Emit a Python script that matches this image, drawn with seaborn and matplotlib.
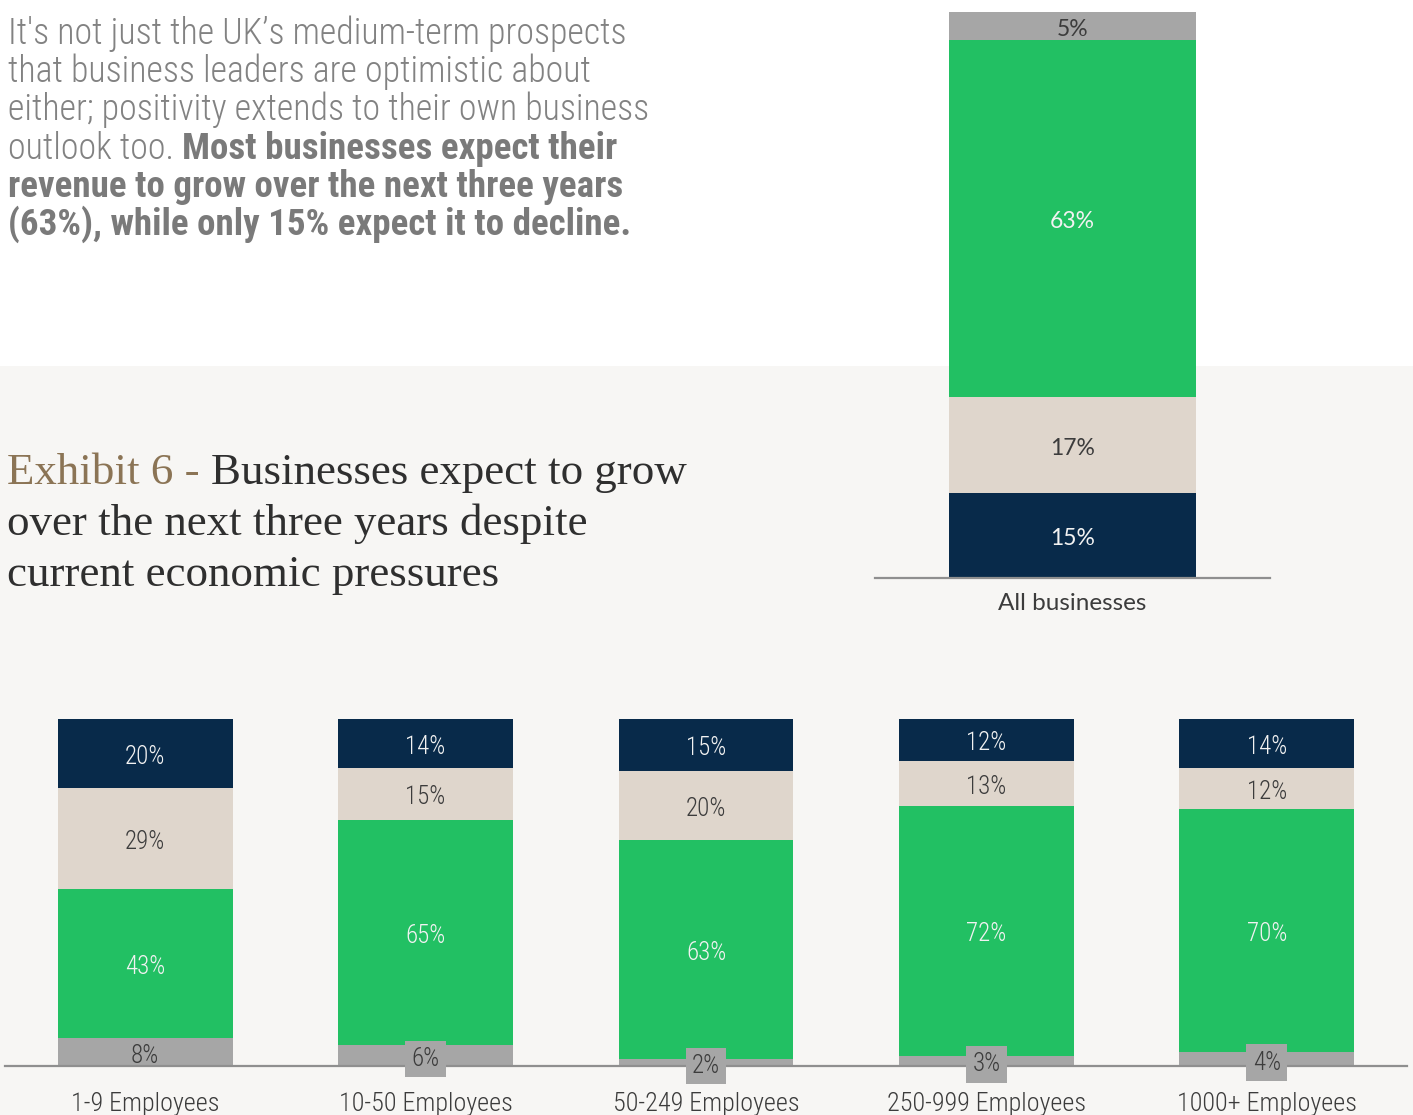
import matplotlib
matplotlib.use("Agg")
import matplotlib.pyplot as plt
import numpy as np
import pandas as pd
import seaborn as sns
from matplotlib import font_manager
from matplotlib.patches import Rectangle

# ---- data -------------------------------------------------------------
size_bands = ["1-9 Employees", "10-50 Employees", "50-249 Employees",
              "250-999 Employees", "1000+ Employees"]
band_decline = [20, 14, 15, 12, 14]
band_same = [29, 15, 20, 13, 12]
band_grow = [43, 65, 63, 72, 70]
band_dont_know = [8, 6, 2, 3, 4]

overall_label = ["All businesses"]
overall_decline = [15]
overall_same = [17]
overall_grow = [63]
overall_dont_know = [5]

# ---- style ------------------------------------------------------------
NAVY = "#082a4a"
BEIGE = "#dfd6cc"
GREEN = "#22c063"
GREY = "#a6a6a6"
PANEL = "#f7f6f4"
DARK_TXT = "#3c3c3c"
LIGHT_TXT = "#f2f2f2"

sns.set_theme(style="white")
available = {f.name for f in font_manager.fontManager.ttflist}


def pick(*names):
    for n in names:
        if n in available:
            return n
    return "DejaVu Sans"


NARROW = pick("Roboto Condensed", "Liberation Sans Narrow", "Roboto")
SANS = pick("Lato", "Open Sans", "Noto Sans")
SERIF = pick("Liberation Serif", "DejaVu Serif")
plt.rcParams["font.family"] = [NARROW, "DejaVu Sans"]

W, H = 1413, 1115
fig = plt.figure(figsize=(W / 100, H / 100), dpi=100, facecolor="white")
renderer = fig.canvas.get_renderer()

# lower panel background
fig.patches.append(Rectangle((0, 0), 1, 1 - 366 / H, transform=fig.transFigure,
                             facecolor=PANEL, edgecolor="none", zorder=-10))


def px_axes(left, top, right, bottom):
    ax = fig.add_axes([left / W, 1 - bottom / H, (right - left) / W, (bottom - top) / H])
    ax.set_facecolor("none")
    ax.set_zorder(1)
    return ax


def fit_size(text, family, weight, target_px, base=20.0):
    t = fig.text(0, 0, text, fontsize=base, family=family, weight=weight)
    w = t.get_window_extent(renderer).width
    t.remove()
    return base * target_px / w


def draw_runs(x_px, y_px, runs, family):
    x = x_px
    for txt, weight, color, size in runs:
        t = fig.text(x / W, 1 - y_px / H, txt, fontsize=size, family=family,
                     weight=weight, color=color, va="baseline", ha="left")
        x += t.get_window_extent(renderer).width


def stacked(ax, cats, segments, width, label_font, label_size, label_weight,
            nudge, boxed_small=False):
    """segments: list of (values, colour, text colour), bottom to top."""
    vals = np.array([s[0] for s in segments], dtype=float)
    tops = np.cumsum(vals, axis=0)
    # draw tallest cumulative layer first so lower layers sit on top
    for i in range(len(segments) - 1, -1, -1):
        df = pd.DataFrame({"cat": cats, "val": tops[i]})
        sns.barplot(data=df, x="cat", y="val", color=segments[i][1], saturation=1,
                    width=width, linewidth=0, ax=ax, order=cats)
    for i, (v, _, tc) in enumerate(segments):
        for j, val in enumerate(v):
            base = tops[i][j] - val
            mid = base + val / 2 - nudge
            kw = {}
            if boxed_small and val < 8:
                kw["bbox"] = dict(boxstyle="square,pad=0.25", facecolor=GREY, edgecolor="none")
            ax.text(j, mid, f"{val:g}%", ha="center", va="center", color=tc,
                    fontsize=label_size, family=label_font, weight=label_weight,
                    zorder=5, clip_on=False, **kw)


def finish(ax, xlim, ylim, pad, size, family, weight):
    ax.set_xlim(*xlim)
    ax.set_ylim(*ylim)
    ax.set_xlabel("")
    ax.set_ylabel("")
    ax.set_yticks([])
    for s in ("top", "left", "right"):
        ax.spines[s].set_visible(False)
    ax.spines["bottom"].set_color("#8f8f8f")
    ax.spines["bottom"].set_linewidth(1.6)
    ax.spines["bottom"].set_zorder(4)
    ax.tick_params(axis="x", length=0, pad=pad, labelsize=size, labelcolor=DARK_TXT)
    for lbl in ax.get_xticklabels():
        lbl.set_family(family)
        lbl.set_weight(weight)


# ---- overall bar (top right) -----------------------------------------
ax_top = px_axes(875, 12, 1270, 578)
stacked(ax_top, overall_label,
        [(overall_decline, NAVY, LIGHT_TXT),
         (overall_same, BEIGE, DARK_TXT),
         (overall_grow, GREEN, LIGHT_TXT),
         (overall_dont_know, GREY, DARK_TXT)],
        width=0.625, label_font=SANS, label_size=16.5, label_weight="normal",
        nudge=0.55)
finish(ax_top, (-0.5, 0.5), (0, 100), pad=10.5, size=17.5, family=SANS, weight="normal")

# ---- by company size (bottom) ---------------------------------------
ax_bot = px_axes(5, 719, 1407, 1066)
stacked(ax_bot, size_bands,
        [(band_dont_know, GREY, DARK_TXT),
         (band_grow, GREEN, LIGHT_TXT),
         (band_same, BEIGE, DARK_TXT),
         (band_decline, NAVY, LIGHT_TXT)],
        width=0.624, label_font=NARROW, label_size=18, label_weight=300,
        nudge=1.0, boxed_small=True)
finish(ax_bot, (-0.5, 4.5), (0, 100), pad=19, size=18.8, family=NARROW, weight=300)

# ---- intro paragraph -------------------------------------------------
P_REG = "#828282"
P_BOLD = "#7a7a7a"
reg = fit_size("It's not just the UK\u2019s medium-term prospects", NARROW, 300, 619)
bold = reg * 1.03
para_lines = [
    [("It's not just the UK\u2019s medium-term prospects", 300, P_REG, reg)],
    [("that business leaders are optimistic about", 300, P_REG, reg)],
    [("either; positivity extends to their own business", 300, P_REG, reg)],
    [("outlook too. ", 300, P_REG, reg), ("Most businesses expect their", "bold", P_BOLD, bold)],
    [("revenue to grow over the next three years", "bold", P_BOLD, bold)],
    [("(63%), while only 15% expect it to decline.", "bold", P_BOLD, bold)],
]
for k, runs in enumerate(para_lines):
    draw_runs(8, 44 + k * 38.2, runs, NARROW)

# ---- exhibit title ---------------------------------------------------
T_ACCENT = "#8b7455"
T_DARK = "#2f2f2f"
ts = fit_size("Exhibit 6 - Businesses expect to grow", SERIF, "normal", 680)
title_lines = [
    [("Exhibit 6 - ", "normal", T_ACCENT, ts), ("Businesses expect to grow", "normal", T_DARK, ts)],
    [("over the next three years despite", "normal", T_DARK, ts)],
    [("current economic pressures", "normal", T_DARK, ts)],
]
for k, runs in enumerate(title_lines):
    draw_runs(7, 484 + k * 51, runs, SERIF)

fig.savefig("out.png", dpi=100, facecolor="white")
